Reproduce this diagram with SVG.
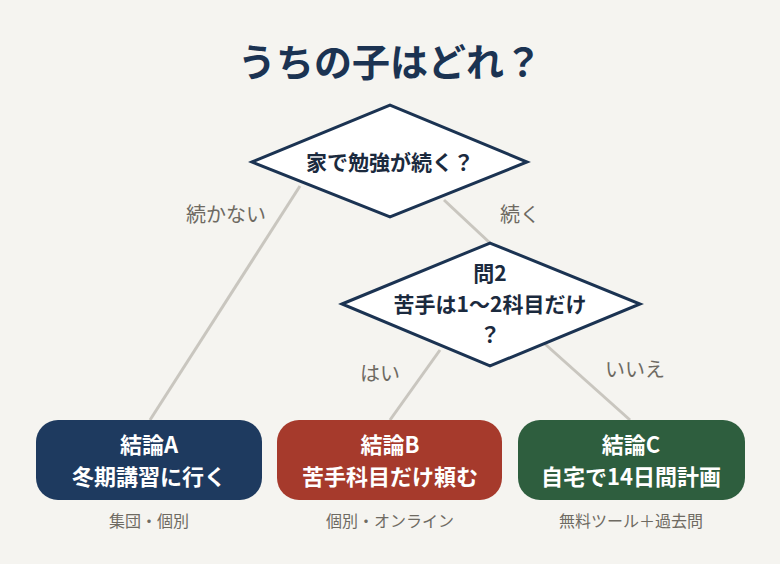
<svg xmlns="http://www.w3.org/2000/svg" width="780" height="564" viewBox="0 0 780 564">
<style>
text{font-family:"Noto Sans CJK JP","Noto Sans",sans-serif;text-anchor:middle}
.t{font-size:38px;font-weight:700;fill:#1b3352}
.q{font-size:21px;font-weight:700;fill:#1b2a3e}
.d{fill:#fff;stroke:#1b3352;stroke-width:3}
.c{stroke:#c9c6bf;stroke-width:3;fill:none}
.l{font-size:20px;fill:#6e6a62}
.b{font-size:22px;font-weight:700;fill:#fff}
.s{font-size:16px;fill:#6e6a62}
</style>
<rect width="780" height="564" fill="#f5f4f0"/>
<text class="t" x="390" y="76">うちの子はどれ？</text>
<g id="connectors">
<line class="c" x1="300" y1="186" x2="150" y2="420"/>
<line class="c" x1="444" y1="200" x2="490" y2="243"/>
<line class="c" x1="440" y1="350" x2="390" y2="420"/>
<line class="c" x1="545" y1="344" x2="630" y2="420"/>
<text class="l" x="226" y="222">続かない</text>
<text class="l" x="520" y="222">続く</text>
<text class="l" x="380" y="381">はい</text>
<text class="l" x="635" y="377">いいえ</text>
</g>
<g id="q1">
<polygon class="d" points="252,162 390,105 527,162 390,217"/>
<text class="q" x="390" y="170">家で勉強が続く？</text>
</g>
<g id="q2">
<polygon class="d" points="342,304 490,243 640,304 490,366"/>
<text class="q" x="490" y="281">問2</text>
<text class="q" x="490" y="312">苦手は1〜2科目だけ</text>
<text class="q" x="490" y="342">？</text>
</g>
<g id="a">
<rect x="36" y="420" width="226" height="80" rx="22" fill="#1e3a5f"/>
<text class="b" x="149" y="453">結論A</text>
<text class="b" x="149" y="485">冬期講習に行く</text>
<text class="s" x="149" y="527">集団・個別</text>
</g>
<g id="b">
<rect x="277" y="420" width="225" height="80" rx="22" fill="#a63a2c"/>
<text class="b" x="390" y="453">結論B</text>
<text class="b" x="390" y="485">苦手科目だけ頼む</text>
<text class="s" x="390" y="527">個別・オンライン</text>
</g>
<g id="c">
<rect x="518" y="420" width="227" height="80" rx="22" fill="#2e5e3e"/>
<text class="b" x="631" y="453">結論C</text>
<text class="b" x="631" y="485">自宅で14日間計画</text>
<text class="s" x="631" y="527">無料ツール＋過去問</text>
</g>
</svg>
